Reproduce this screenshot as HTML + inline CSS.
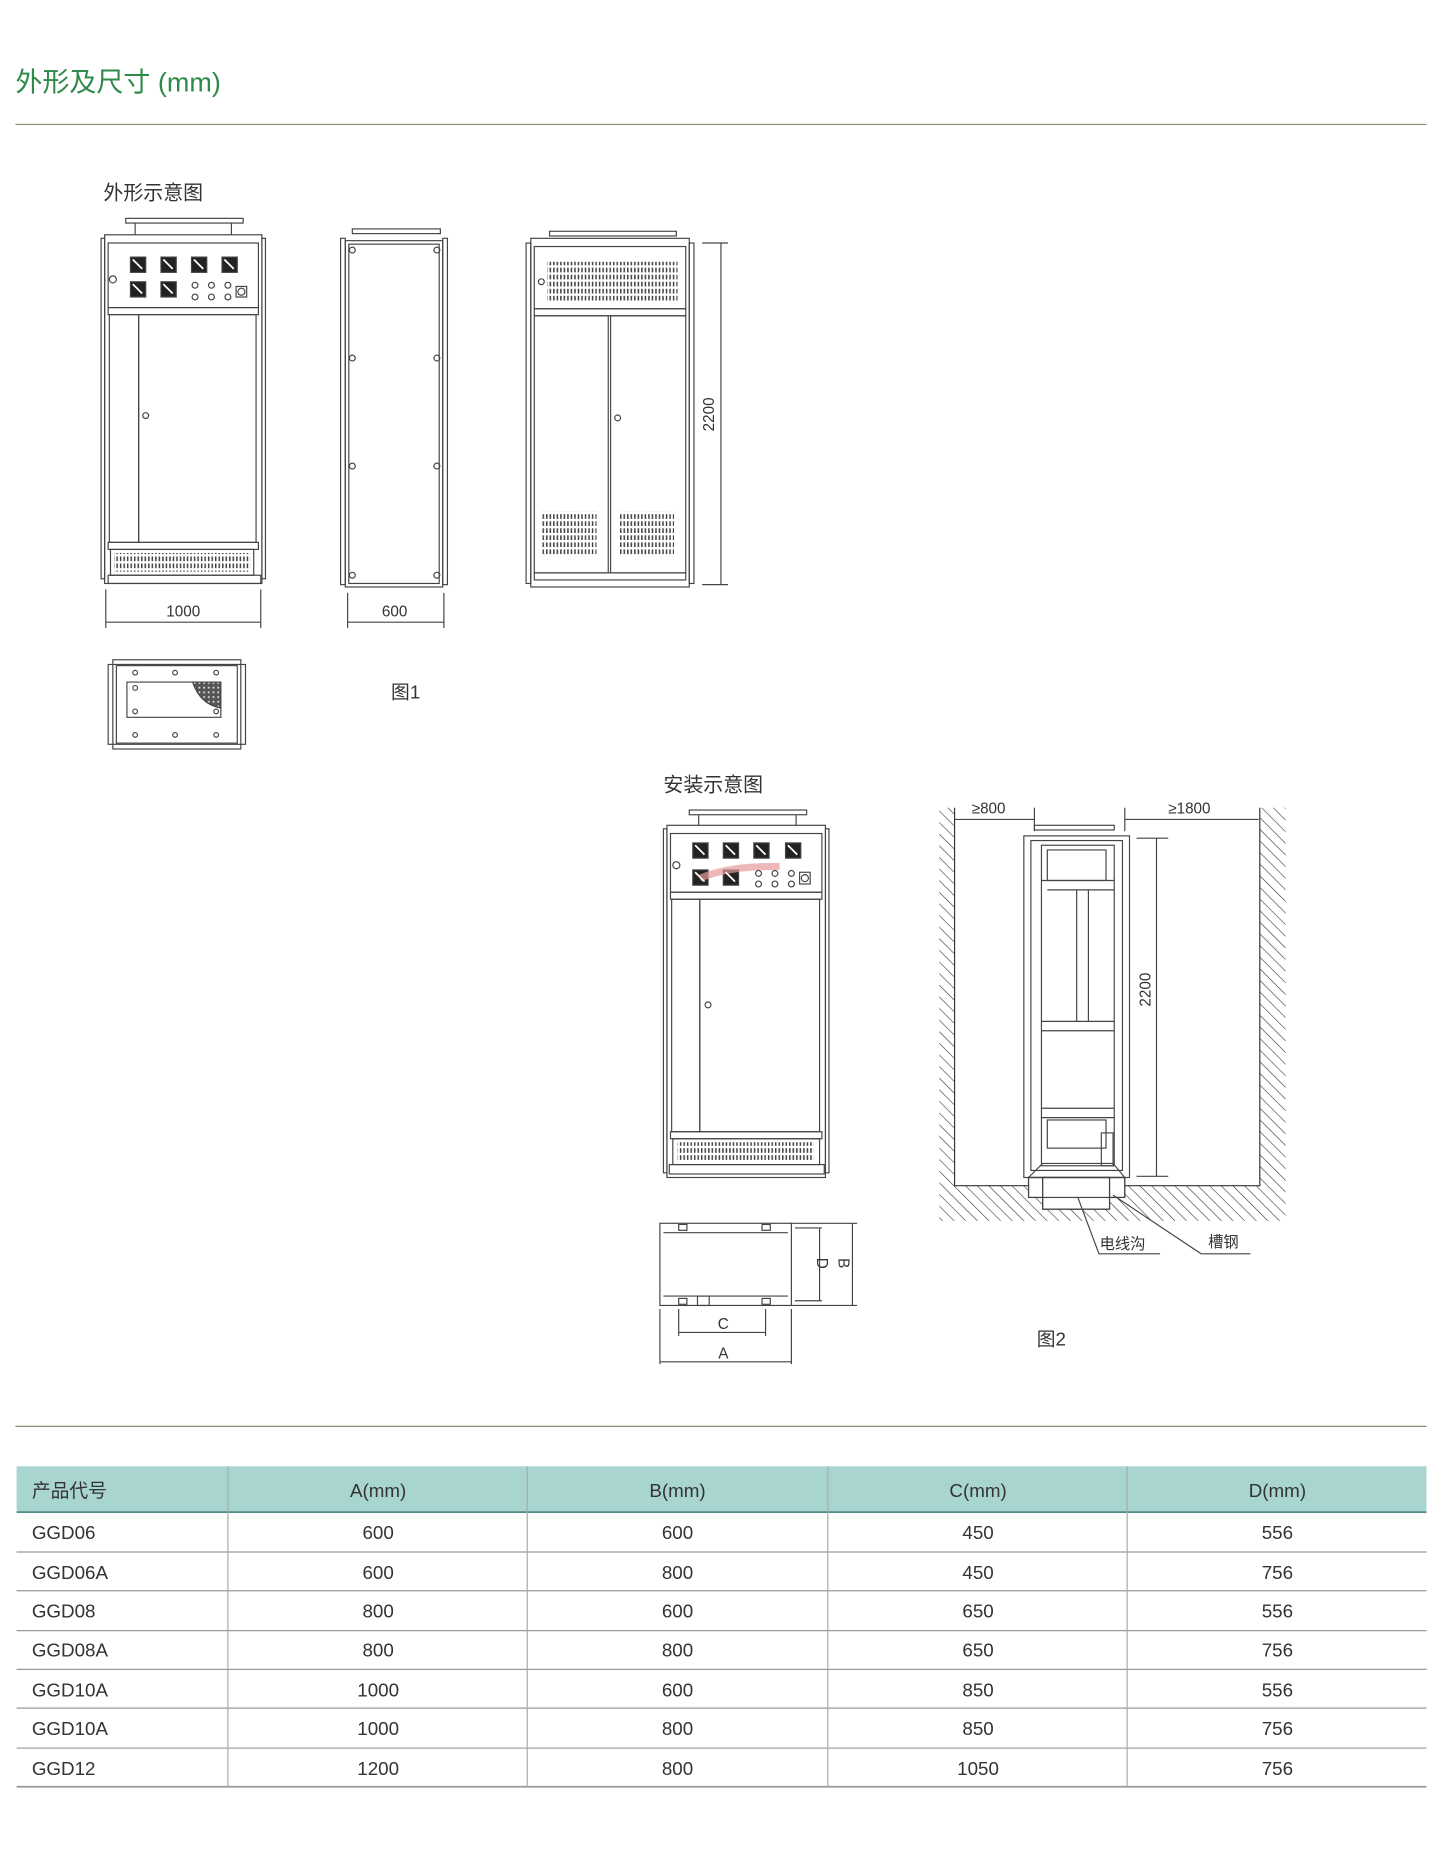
<!DOCTYPE html>
<html><head><meta charset="utf-8"><style>
html,body{margin:0;padding:0;background:#fff;}
svg{display:block}
text{font-family:"Liberation Sans","Noto Sans CJK SC",sans-serif;}
</style></head><body>
<svg width="1456" height="1849" viewBox="0 0 1240 1575" xmlns="http://www.w3.org/2000/svg">
<defs>
<pattern id="h" width="7" height="7" patternUnits="userSpaceOnUse" patternTransform="rotate(-45)">
<line x1="0" y1="0" x2="0" y2="7" stroke="#333" stroke-width="1"/></pattern>
<pattern id="v" width="3" height="6" patternUnits="userSpaceOnUse"><rect x="0" y="0" width="1.3" height="4" fill="#444"/></pattern>
<pattern id="x" width="4" height="4" patternUnits="userSpaceOnUse"><rect width="4" height="4" fill="#555"/><rect x="1" y="1" width="1.5" height="1.5" fill="#ddd"/></pattern>
</defs>
<text x="13" y="78" font-size="23" fill="#2f8a4a">外形及尺寸 (mm)</text>
<line x1="13" y1="106" x2="1215" y2="106" stroke="#8a8a78" stroke-width="1"/>
<text x="88" y="170" font-size="17" fill="#333">外形示意图</text>

<g fill="none" stroke="#444" stroke-width="1">
<rect x="107" y="186" width="100" height="4"/><line x1="115" y1="190" x2="115" y2="200"/><line x1="197" y1="190" x2="197" y2="200"/>
<rect x="86" y="203" width="3" height="290"/><rect x="223" y="203" width="3" height="290"/>
<rect x="89" y="200" width="134" height="297"/>
<rect x="92" y="207" width="128" height="55"/>
<rect x="92" y="262" width="128" height="6"/>
<rect x="93" y="268" width="25" height="194"/><rect x="118" y="268" width="100" height="194"/>
<circle cx="124" cy="354" r="2.5"/><circle cx="96" cy="238" r="3"/>
<rect x="92" y="462" width="128" height="6"/>
<rect x="94" y="468" width="122" height="22"/>
<rect x="92" y="490" width="130" height="7"/>
<g fill="#222"><rect x="111" y="219" width="13" height="13"/><rect x="137" y="219" width="13" height="13"/><rect x="163" y="219" width="13" height="13"/><rect x="189" y="219" width="13" height="13"/><rect x="111" y="240" width="13" height="13"/><rect x="137" y="240" width="13" height="13"/></g>
<g stroke="#fff" stroke-width="1.5"><path d="M113 221l8 8M139 221l8 8M165 221l8 8M191 221l8 8M113 242l8 8M139 242l8 8"/></g>
<g><circle cx="166" cy="243" r="2.5"/><circle cx="180" cy="243" r="2.5"/><circle cx="194" cy="243" r="2.5"/><circle cx="166" cy="253" r="2.5"/><circle cx="180" cy="253" r="2.5"/><circle cx="194" cy="253" r="2.5"/><rect x="201" y="244" width="9" height="9"/><circle cx="205.5" cy="248.5" r="3"/></g>
<rect x="97" y="471" width="116" height="16" fill="url(#v)" stroke="none"/>
<line x1="90" y1="502" x2="90" y2="535"/><line x1="222" y1="502" x2="222" y2="535"/><line x1="90" y1="530" x2="222" y2="530"/>
<rect x="300" y="195" width="75" height="4"/>
<rect x="290" y="203" width="4" height="295"/><rect x="377" y="203" width="4" height="295"/>
<rect x="294" y="205" width="83" height="295"/><rect x="297" y="208" width="77" height="289"/>
<g><circle cx="300" cy="213" r="2.5"/><circle cx="372" cy="213" r="2.5"/><circle cx="300" cy="305" r="2.5"/><circle cx="372" cy="305" r="2.5"/><circle cx="300" cy="397" r="2.5"/><circle cx="372" cy="397" r="2.5"/><circle cx="300" cy="490" r="2.5"/><circle cx="372" cy="490" r="2.5"/></g>
<line x1="296" y1="505" x2="296" y2="535"/><line x1="378" y1="505" x2="378" y2="535"/><line x1="296" y1="530" x2="378" y2="530"/>
<rect x="468" y="197" width="108" height="4"/>
<rect x="448" y="207" width="4" height="290"/><rect x="587" y="207" width="4" height="290"/>
<rect x="452" y="203" width="135" height="297"/>
<rect x="455" y="210" width="129" height="53"/>
<rect x="455" y="263" width="129" height="6"/>
<rect x="455" y="269" width="63" height="219"/><rect x="520" y="269" width="64" height="219"/>
<circle cx="526" cy="356" r="2.5"/><circle cx="461" cy="240" r="2.5"/>
<rect x="455" y="488" width="129" height="6"/>
<rect x="466" y="223" width="111" height="33" fill="url(#v)" stroke="none"/>
<rect x="462" y="436" width="46" height="38" fill="url(#v)" stroke="none"/>
<rect x="528" y="436" width="46" height="38" fill="url(#v)" stroke="none"/>
<line x1="598" y1="207" x2="620" y2="207"/><line x1="598" y1="498" x2="620" y2="498"/><line x1="614" y1="207" x2="614" y2="498"/>
<rect x="96" y="562" width="109" height="76"/><rect x="92" y="566" width="117" height="68"/><rect x="99" y="567" width="103" height="66"/>
<path d="M108 581h56c4 12 12 20 24 22v8h-80z"/>
<path d="M164 581h24v22c-12-2-20-10-24-22z" fill="url(#x)"/>
<g><circle cx="115" cy="573" r="2"/><circle cx="149" cy="573" r="2"/><circle cx="184" cy="573" r="2"/><circle cx="115" cy="586" r="2"/><circle cx="115" cy="606" r="2"/><circle cx="184" cy="606" r="2"/><circle cx="115" cy="626" r="2"/><circle cx="149" cy="626" r="2"/><circle cx="184" cy="626" r="2"/></g>
</g>
<g font-size="13" fill="#333" text-anchor="middle">
<text x="156" y="525">1000</text><text x="336" y="525">600</text>
<text transform="translate(608,353) rotate(-90)">2200</text>
</g>
<text x="333" y="595" font-size="16" fill="#333">图1</text>

<text x="565" y="674" font-size="17" fill="#333">安装示意图</text>
<g fill="none" stroke="#444" stroke-width="1">
<rect x="587" y="690" width="100" height="4"/><line x1="595" y1="694" x2="595" y2="703"/><line x1="678" y1="694" x2="678" y2="703"/>
<rect x="565" y="706" width="3" height="293"/><rect x="703" y="706" width="3" height="293"/>
<rect x="568" y="703" width="135" height="300"/>
<rect x="571" y="710" width="129" height="50"/>
<rect x="571" y="760" width="129" height="6"/>
<rect x="572" y="766" width="24" height="198"/><rect x="596" y="766" width="102" height="198"/>
<circle cx="603" cy="856" r="2.5"/><circle cx="576" cy="737" r="3"/>
<rect x="571" y="964" width="129" height="6"/><rect x="573" y="970" width="125" height="22"/><rect x="570" y="992" width="132" height="8"/>
<g fill="#222"><rect x="590" y="718" width="13" height="13"/><rect x="616" y="718" width="13" height="13"/><rect x="642" y="718" width="13" height="13"/><rect x="669" y="718" width="13" height="13"/><rect x="590" y="741" width="13" height="13"/><rect x="616" y="741" width="13" height="13"/></g>
<path d="M596 748c20-8 40-10 68-10" stroke="#e89a9a" stroke-width="6" opacity=".7"/>
<g stroke="#fff" stroke-width="1.5"><path d="M592 720l8 8M618 720l8 8M644 720l8 8M671 720l8 8M592 743l8 8M618 743l8 8"/></g>
<g><circle cx="646" cy="744" r="2.5"/><circle cx="660" cy="744" r="2.5"/><circle cx="674" cy="744" r="2.5"/><circle cx="646" cy="753" r="2.5"/><circle cx="660" cy="753" r="2.5"/><circle cx="674" cy="753" r="2.5"/><rect x="681" y="743" width="9" height="10"/><circle cx="685.5" cy="748" r="3"/></g>
<rect x="577" y="973" width="116" height="16" fill="url(#v)" stroke="none"/>
<rect x="562" y="1042" width="112" height="70"/>
<line x1="565" y1="1050" x2="671" y2="1050"/><line x1="565" y1="1104" x2="671" y2="1104"/>
<rect x="578" y="1043" width="7" height="5"/><rect x="649" y="1043" width="7" height="5"/><rect x="578" y="1106" width="7" height="5"/><rect x="649" y="1106" width="7" height="5"/><rect x="594" y="1104" width="10" height="8"/>
<line x1="674" y1="1042" x2="730" y2="1042"/><line x1="674" y1="1112" x2="730" y2="1112"/><line x1="677" y1="1046" x2="700" y2="1046"/><line x1="677" y1="1108" x2="700" y2="1108"/>
<line x1="698" y1="1046" x2="698" y2="1108"/><line x1="726" y1="1042" x2="726" y2="1112"/>
<line x1="562" y1="1115" x2="562" y2="1162"/><line x1="674" y1="1115" x2="674" y2="1162"/><line x1="578" y1="1115" x2="578" y2="1138"/><line x1="652" y1="1115" x2="652" y2="1138"/>
<line x1="578" y1="1135" x2="652" y2="1135"/><line x1="562" y1="1160" x2="674" y2="1160"/>
<path d="M800 688h13v322h260V688h22v352H800z" fill="url(#h)" stroke="none"/>
<path d="M813 688v322h260V688" stroke="#333"/>
<rect x="876" y="1003" width="82" height="17" fill="#fff"/>
<rect x="888" y="1003" width="57" height="27" fill="#fff"/>
<rect x="881" y="703" width="68" height="4"/>
<rect x="872" y="712" width="90" height="291"/>
<rect x="878" y="716" width="78" height="281"/>
<rect x="887" y="720" width="62" height="273"/>
<rect x="892" y="724" width="50" height="26"/><line x1="892" y1="758" x2="949" y2="758"/><line x1="887" y1="750" x2="949" y2="750"/>
<line x1="917" y1="758" x2="917" y2="870"/><line x1="927" y1="758" x2="927" y2="870"/>
<line x1="887" y1="870" x2="949" y2="870"/><line x1="887" y1="878" x2="949" y2="878"/>
<line x1="887" y1="944" x2="949" y2="944"/><line x1="887" y1="952" x2="949" y2="952"/>
<rect x="892" y="954" width="50" height="24"/>
<rect x="938" y="965" width="10" height="28"/>
<path d="M876 1003l12-12h60l10 12z"/>
<rect x="876" y="1003" width="82" height="17"/><rect x="888" y="1003" width="57" height="27"/>
<line x1="813" y1="698" x2="881" y2="698"/><line x1="881" y1="688" x2="881" y2="708"/>
<line x1="958" y1="698" x2="1072" y2="698"/><line x1="958" y1="688" x2="958" y2="708"/>
<line x1="968" y1="714" x2="995" y2="714"/><line x1="968" y1="1002" x2="995" y2="1002"/><line x1="985" y1="714" x2="985" y2="1002"/>
<path d="M918 1020l18 48h52M948 1018l75 50h42"/>
</g>
<g font-size="13" fill="#333" text-anchor="middle">
<text transform="translate(696,1076) rotate(90)">D</text>
<text transform="translate(714,1076) rotate(90)">B</text>
<text x="616" y="1132">C</text><text x="616" y="1157">A</text>
<text x="842" y="693">≥800</text><text x="1013" y="693">≥1800</text>
<text transform="translate(980,843) rotate(-90)">2200</text>
<text x="956" y="1064">电线沟</text><text x="1042" y="1062">槽钢</text>
</g>
<text x="883" y="1146" font-size="16" fill="#333">图2</text>

<line x1="13" y1="1215" x2="1215" y2="1215" stroke="#8a8a78" stroke-width="1"/>
<rect x="14" y="1249" width="1201" height="39" fill="#a9d5d1"/>
<line x1="14" y1="1288" x2="1215" y2="1288" stroke="#4f8c88" stroke-width="1.5"/>
<g stroke="#999" stroke-width="1">
<line x1="14" y1="1322" x2="1215" y2="1322"/><line x1="14" y1="1355" x2="1215" y2="1355"/><line x1="14" y1="1389" x2="1215" y2="1389"/><line x1="14" y1="1422" x2="1215" y2="1422"/><line x1="14" y1="1455" x2="1215" y2="1455"/><line x1="14" y1="1489" x2="1215" y2="1489"/>
<line x1="14" y1="1522" x2="1215" y2="1522" stroke-width="1.5"/>
<line x1="194" y1="1249" x2="194" y2="1522" stroke="#aaa"/><line x1="449" y1="1249" x2="449" y2="1522" stroke="#aaa"/><line x1="705" y1="1249" x2="705" y2="1522" stroke="#aaa"/><line x1="960" y1="1249" x2="960" y2="1522" stroke="#aaa"/>
</g>
<g font-size="16" fill="#333">
<text x="27" y="1275">产品代号</text>
<g text-anchor="middle"><text x="322" y="1275">A(mm)</text><text x="577" y="1275">B(mm)</text><text x="833" y="1275">C(mm)</text><text x="1088" y="1275">D(mm)</text></g>
<text x="27" y="1311">GGD06</text><text x="27" y="1345">GGD06A</text><text x="27" y="1378">GGD08</text><text x="27" y="1411">GGD08A</text><text x="27" y="1445">GGD10A</text><text x="27" y="1478">GGD10A</text><text x="27" y="1512">GGD12</text>
<g text-anchor="middle">
<text x="322" y="1311">600</text><text x="577" y="1311">600</text><text x="833" y="1311">450</text><text x="1088" y="1311">556</text>
<text x="322" y="1345">600</text><text x="577" y="1345">800</text><text x="833" y="1345">450</text><text x="1088" y="1345">756</text>
<text x="322" y="1378">800</text><text x="577" y="1378">600</text><text x="833" y="1378">650</text><text x="1088" y="1378">556</text>
<text x="322" y="1411">800</text><text x="577" y="1411">800</text><text x="833" y="1411">650</text><text x="1088" y="1411">756</text>
<text x="322" y="1445">1000</text><text x="577" y="1445">600</text><text x="833" y="1445">850</text><text x="1088" y="1445">556</text>
<text x="322" y="1478">1000</text><text x="577" y="1478">800</text><text x="833" y="1478">850</text><text x="1088" y="1478">756</text>
<text x="322" y="1512">1200</text><text x="577" y="1512">800</text><text x="833" y="1512">1050</text><text x="1088" y="1512">756</text>
</g></g>
</svg>
</body></html>
